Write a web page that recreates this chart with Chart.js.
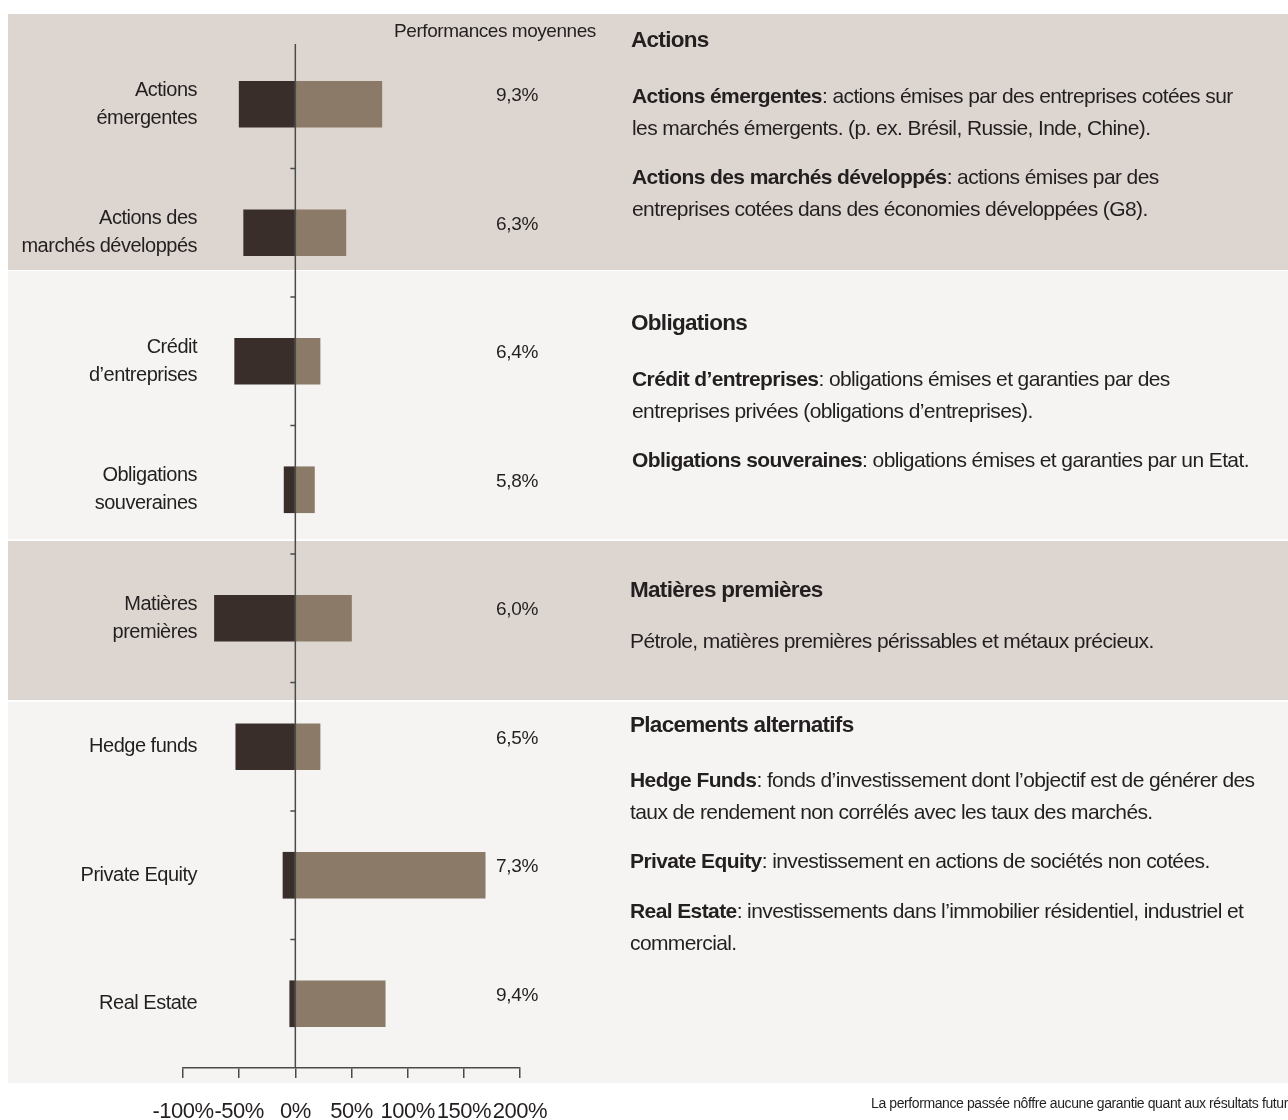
<!DOCTYPE html>
<html lang="fr">
<head>
<meta charset="utf-8">
<title>Performances moyennes</title>
<script src="https://cdn.jsdelivr.net/npm/chart.js@4.4.1/dist/chart.umd.min.js"></script>
<style>
  html, body { margin: 0; padding: 0; background: #fff; }
  #wrap {
    position: relative; width: 1288px; height: 1120px; overflow: hidden;
    font-family: "Liberation Sans", Arial, sans-serif;
    color: #231f20;
  }
  .band { position: absolute; left: 8px; right: 0; }
  .beige { background: #ddd6d0; }
  .light { background: #f5f4f2; }
  #chart { position: absolute; left: 0; top: 0; }
  .t { position: absolute; left: 632px; white-space: nowrap; font-size: 21px; letter-spacing: -0.6px; line-height: 32px; }
  .t.h { font-weight: bold; font-size: 22.5px; letter-spacing: -0.7px; left: 631px; }
  .t b { font-weight: bold; }
  #note { position: absolute; left: 871px; top: 1095px; font-size: 14px; letter-spacing: -0.4px; white-space: nowrap; }
</style>
</head>
<body>
<div id="wrap">
  <div class="band beige" style="top:14px;height:256px"></div>
  <div class="band light" style="top:271px;height:268px"></div>
  <div class="band beige" style="top:541px;height:159px"></div>
  <div class="band light" style="top:702px;height:381px"></div>

  <canvas id="chart" width="1288" height="1120"></canvas>

  <div class="t h" style="top:24px">Actions</div>
  <div class="t" style="top:80px"><b>Actions émergentes</b>: actions émises par des entreprises cotées sur<br>les marchés émergents. (p. ex. Brésil, Russie, Inde, Chine).</div>
  <div class="t" style="top:161px"><b>Actions des marchés développés</b>: actions émises par des<br>entreprises cotées dans des économies développées (G8).</div>

  <div class="t h" style="top:307px">Obligations</div>
  <div class="t" style="top:363px"><b>Crédit d’entreprises</b>: obligations émises et garanties par des<br>entreprises privées (obligations d’entreprises).</div>
  <div class="t" style="top:444px"><b>Obligations souveraines</b>: obligations émises et garanties par un Etat.</div>

  <div class="t h" style="top:574px;left:630px">Matières premières</div>
  <div class="t" style="top:625px;left:630px">Pétrole, matières premières périssables et métaux précieux.</div>

  <div class="t h" style="top:709px;left:630px">Placements alternatifs</div>
  <div class="t" style="top:764px;left:630px"><b>Hedge Funds</b>: fonds d’investissement dont l’objectif est de générer des<br>taux de rendement non corrélés avec les taux des marchés.</div>
  <div class="t" style="top:845px;left:630px"><b>Private Equity</b>: investissement en actions de sociétés non cotées.</div>
  <div class="t" style="top:895px;left:630px"><b>Real Estate</b>: investissements dans l’immobilier résidentiel, industriel et<br>commercial.</div>

  <div id="note">La performance passée nôffre aucune garantie quant aux résultats futurs.</div>
</div>

<script>
// categories, top to bottom
const categories = [
  ['Actions', 'émergentes'],
  ['Actions des', 'marchés développés'],
  ['Crédit', 'd’entreprises'],
  ['Obligations', 'souveraines'],
  ['Matières', 'premières'],
  'Hedge funds',
  'Private Equity',
  'Real Estate'
];
// worst and best yearly performance (%)
const worstValues = [-50, -46, -54, -10, -72, -53, -11, -5];
const bestValues = [77, 45, 22, 17, 50, 22, 169, 80];
// average performance shown next to each bar
const averageLabels = ['9,3%', '6,3%', '6,4%', '5,8%', '6,0%', '6,5%', '7,3%', '9,4%'];
const headerText = 'Performances moyennes';
const xMin = -100;
const xMax = 200;
const xStep = 50;

const FONT = '"Liberation Sans", Arial, sans-serif';
const TEXT = '#231f20';
const AXIS = '#4a4a4a';

Chart.defaults.font.family = FONT;
Chart.defaults.color = TEXT;

// tighter tracking for the axis tick labels (the original uses a condensed face)
const tracking = {
  id: 'tracking',
  beforeDraw(chart) { chart.ctx.letterSpacing = '-0.5px'; },
  afterDraw(chart) { chart.ctx.letterSpacing = '0px'; }
};

// vertical axis at 0, marks between rows, row names and average labels
const zeroAxis = {
  id: 'zeroAxis',
  afterDatasetsDraw(chart) {
    const { ctx, chartArea, scales: { x, y } } = chart;
    const x0 = x.getPixelForValue(0);
    ctx.save();
    ctx.strokeStyle = AXIS;
    ctx.lineWidth = 1.5;
    ctx.beginPath();
    ctx.moveTo(x0, chartArea.top + 4);
    ctx.lineTo(x0, chartArea.bottom);
    ctx.stroke();
    for (let i = 1; i < categories.length; i++) {
      const yy = (y.getPixelForValue(i - 1) + y.getPixelForValue(i)) / 2;
      ctx.beginPath();
      ctx.moveTo(x0 - 5, yy);
      ctx.lineTo(x0, yy);
      ctx.stroke();
    }
    ctx.fillStyle = TEXT;
    ctx.textBaseline = 'middle';

    ctx.font = '20px ' + FONT;
    ctx.letterSpacing = '-0.5px';
    ctx.textAlign = 'right';
    categories.forEach((c, i) => {
      const lines = Array.isArray(c) ? c : [c];
      const yc = y.getPixelForValue(i);
      lines.forEach((ln, k) => {
        ctx.fillText(ln, chartArea.left + 14, yc + (k - (lines.length - 1) / 2) * 28);
      });
    });

    ctx.font = '19px ' + FONT;
    ctx.letterSpacing = '-0.3px';
    averageLabels.forEach((t, i) => {
      ctx.fillText(t, chartArea.right + 18, y.getPixelForValue(i) - 8);
    });

    ctx.letterSpacing = '-0.45px';
    ctx.textAlign = 'center';
    ctx.fillText(headerText, chartArea.right - 25, chartArea.top - 8);
    ctx.restore();
  }
};

const ctx = document.getElementById('chart').getContext('2d');
new Chart(ctx, {
  type: 'bar',
  data: {
    labels: categories,
    datasets: [
      { label: 'Pire performance', data: worstValues, backgroundColor: '#3a2e2b', borderWidth: 0, barThickness: 46 },
      { label: 'Meilleure performance', data: bestValues, backgroundColor: '#8b7a67', borderWidth: 0, barThickness: 46 }
    ]
  },
  options: {
    indexAxis: 'y',
    responsive: false,
    animation: false,
    layout: { padding: { top: 40, left: 8, right: 768, bottom: 0 } },
    plugins: {
      legend: { display: false },
      tooltip: { enabled: false }
    },
    scales: {
      x: {
        stacked: true,
        min: xMin,
        max: xMax,
        ticks: {
          stepSize: xStep,
          autoSkip: false,
          maxRotation: 0,
          padding: 21,
          font: { size: 22 },
          callback: v => v + '%'
        },
        grid: { drawOnChartArea: false, tickLength: 10, color: AXIS, lineWidth: 1.5 },
        border: { color: AXIS, width: 1.5 },
        afterFit: s => { s.height = 52; }
      },
      y: {
        stacked: true,
        ticks: { display: false },
        grid: { display: false, drawTicks: false },
        border: { display: false },
        afterFit: s => { s.width = 175; }
      }
    }
  },
  plugins: [tracking, zeroAxis]
});
</script>
</body>
</html>
